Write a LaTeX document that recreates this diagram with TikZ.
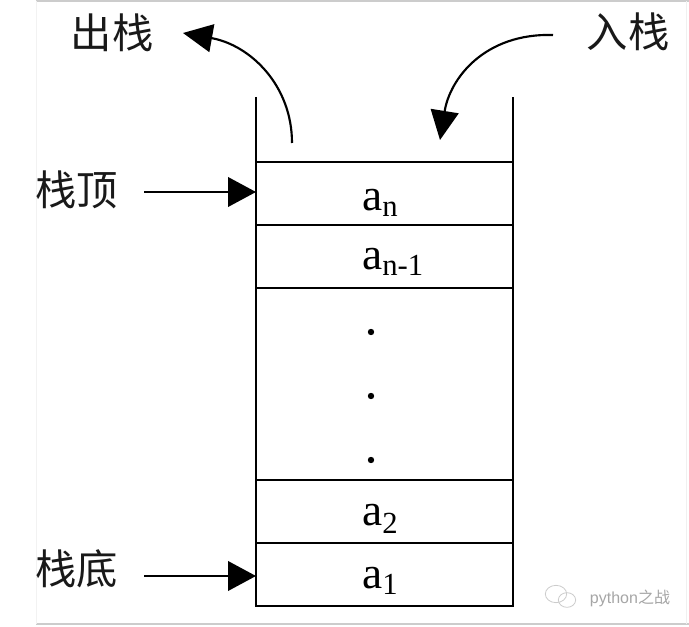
\documentclass[tikz,border=0pt]{standalone}
\usepackage{fontspec}
\setmainfont{Liberation Serif}
\newfontfamily\cjk{Noto Sans CJK SC}
\newfontfamily\wmfont{Liberation Sans}
\usetikzlibrary{arrows.meta}
\newcommand\mysub[2]{\raisebox{-#1}{\fontsize{23}{23}\selectfont #2}}
\begin{document}
\begin{tikzpicture}[x=0.75pt,y=-0.75pt,
  wall/.style={line width=2.2pt},
  lbl/.style={font=\cjk\fontsize{31}{31}\selectfont, inner sep=0pt, text=black!90},
  elem/.style={font=\fontsize{34}{34}\selectfont, inner sep=0pt, anchor=base west},
  ptr/.style={line width=2.2pt,-{Triangle[length=21pt,width=22pt]}},
  mv/.style={line width=1.6pt,-{Triangle[length=22pt,width=21pt]}},
  frameline/.style={gray!40, line width=0.8pt},
  dotmark/.style={fill=black}
]
\useasboundingbox (0,0) rectangle (689,627);
\fill[white] (0,0) rectangle (689,627);
% faint frame
\draw[frameline] (36,1) -- (689,1);
\draw[frameline] (36,624) -- (689,624);
\draw[gray!10, line width=0.6pt] (36,1) -- (36,624);
\draw[gray!12, line width=0.6pt] (686,1) -- (686,624);

% stack
\coordinate (wlt) at (256,97);
\coordinate (wlb) at (256,606);
\coordinate (wrt) at (513,97);
\coordinate (wrb) at (513,606);
\draw[wall] (wlt) -- (wlb) -- (wrb) -- (wrt);
\foreach \yy in {162,225,288,480,543} {
  \draw[wall] (256,\yy) -- (513,\yy);
}

% elements
\node[elem] (an)  at (362,211) {a\mysub{4pt}{n}};
\node[elem] (an1) at (362,270) {a\mysub{4pt}{n-1}};
\node[elem] (a2)  at (362,525) {a\mysub{6pt}{2}};
\node[elem] (a1)  at (362,588) {a\mysub{5pt}{1}};

\fill[dotmark] (371,332) circle[radius=2.4pt];
\fill[dotmark] (371,396) circle[radius=2.4pt];
\fill[dotmark] (371,460) circle[radius=2.4pt];

% labels
\node[lbl] (out) at (112,33) {出栈};
\node[lbl] (in)  at (628,32) {入栈};
\node[lbl] (top) at (77,190) {栈顶};
\node[lbl] (bot) at (77,569) {栈底};

% pointers
\coordinate (topS) at (144,192);
\coordinate (topE) at (256,192);
\coordinate (botS) at (144,576);
\coordinate (botE) at (256,576);
\draw[ptr] (topS) -- (topE);
\draw[ptr] (botS) -- (botE);

% push / pop curves
\coordinate (popS) at (292,143);
\coordinate (popE) at (183,33);
\draw[mv] (popS) .. controls (292,85) and (250,45) .. (popE);
\coordinate (pushS) at (553,35);
\coordinate (pushE) at (440,140);
\draw[mv] (pushS) .. controls (485,33) and (450,78) .. (pushE);

% watermark
\draw[gray!40, line width=0.6pt] (556,594) ellipse[x radius=8pt, y radius=6.5pt];
\draw[gray!40, line width=0.6pt] (567,600) ellipse[x radius=6.5pt, y radius=5.5pt];
\node[inner sep=0pt, text=gray!70, font=\wmfont\fontsize{12}{12}\selectfont] (wm) at (630,598) {python{\cjk 之战}};
\end{tikzpicture}
\end{document}
